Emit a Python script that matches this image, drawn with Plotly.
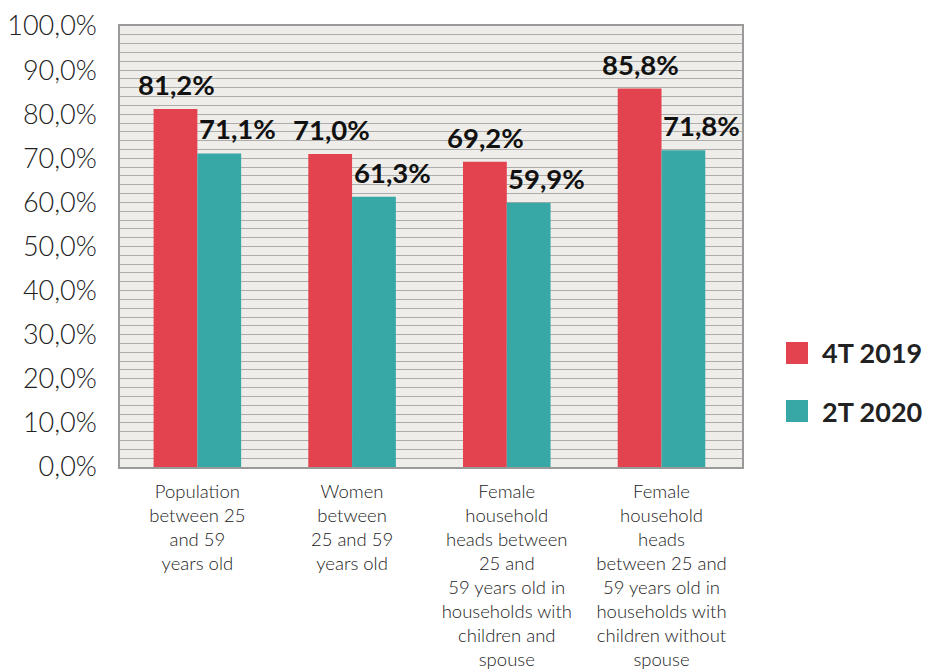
import plotly.graph_objects as go

categories = [
    "Population<br>between 25<br>and 59<br>years old",
    "Women<br>between<br>25 and 59<br>years old",
    "Female<br>household<br>heads between<br>25 and<br>59 years old in<br>households with<br>children and<br>spouse",
    "Female<br>household<br>heads<br>between 25 and<br>59 years old in<br>households with<br>children without<br>spouse",
]
series_names = ["4T 2019", "2T 2020"]
values_2019 = [81.2, 71.0, 69.2, 85.8]
values_2020 = [71.1, 61.3, 59.9, 71.8]
tick_vals = [0, 10, 20, 30, 40, 50, 60, 70, 80, 90, 100]
tick_text = ["0,0%", "10,0%", "20,0%", "30,0%", "40,0%", "50,0%", "60,0%", "70,0%", "80,0%", "90,0%", "100,0%"]

RED = "#e2434f"
TEAL = "#38a8a6"
colors = [RED, TEAL]

def fmt(v):
    return f"{v:.1f}".replace(".", ",") + "%"

fig = go.Figure()
for name, vals, col in zip(series_names, [values_2019, values_2020], colors):
    fig.add_trace(go.Bar(x=categories, y=vals, name=name, marker_color=col,
                         marker_line_width=0, showlegend=False))

# value labels
for i, cat in enumerate(categories):
    fig.add_annotation(x=cat, y=values_2019[i], text=f"<b>{fmt(values_2019[i])}</b>",
                       xref="x", yref="y", showarrow=False, xshift=-21, yshift=6,
                       yanchor="bottom", font=dict(family="Lato", size=27.5, color="#111"))
    fig.add_annotation(x=cat, y=values_2020[i], text=f"<b>{fmt(values_2020[i])}</b>",
                       xref="x", yref="y", showarrow=False, xshift=40, yshift=6,
                       yanchor="bottom", font=dict(family="Lato", size=27.5, color="#111"))

# legend (manual, large squares)
leg_y = [353, 411]
for name, col, yy in zip(series_names, colors, leg_y):
    fig.add_shape(type="rect", xref="paper", yref="paper",
                  x0=(786 - 120) / 622, x1=(808 - 120) / 622,
                  y0=(467 - (yy + 11)) / 441, y1=(467 - (yy - 11)) / 441,
                  fillcolor=col, line=dict(width=0))
    fig.add_annotation(xref="paper", yref="paper", x=(820 - 120) / 622, y=(467 - yy) / 441,
                       text=f"<b>{name}</b>", showarrow=False, xanchor="left", yanchor="middle",
                       font=dict(family="Lato", size=27, color="#222"))

fig.update_layout(
    width=929, height=670,
    margin=dict(l=120, r=187, t=26, b=203, autoexpand=False),
    paper_bgcolor="white",
    plot_bgcolor="#eeede9",
    barmode="group",
    bargap=0.434,
    bargroupgap=0,
    showlegend=False,
    font=dict(family="Lato", color="#222"),
)
fig.update_xaxes(
    automargin=False,
    showline=True, linecolor="#9a9a9a", linewidth=1.5, mirror=True,
    tickfont=dict(family="Lato", size=18.5, color="#222", weight=300),
    ticks="", showgrid=False, ticklabelstandoff=7,
)
fig.update_yaxes(
    automargin=False,
    range=[0, 100], tickvals=tick_vals, ticktext=tick_text,
    tickfont=dict(family="Lato", size=27, color="#222", weight=300),
    showline=True, linecolor="#9a9a9a", linewidth=1.5, mirror=True,
    showgrid=True, gridcolor="#aeacaa", gridwidth=1,
    minor=dict(dtick=2, showgrid=True, gridcolor="#aeacaa", gridwidth=1),
    ticklabelstandoff=16, zeroline=False, ticks="",
)
fig.write_html("out.html", config={"displayModeBar": False},
               post_script="document.body.style.margin='0';")
